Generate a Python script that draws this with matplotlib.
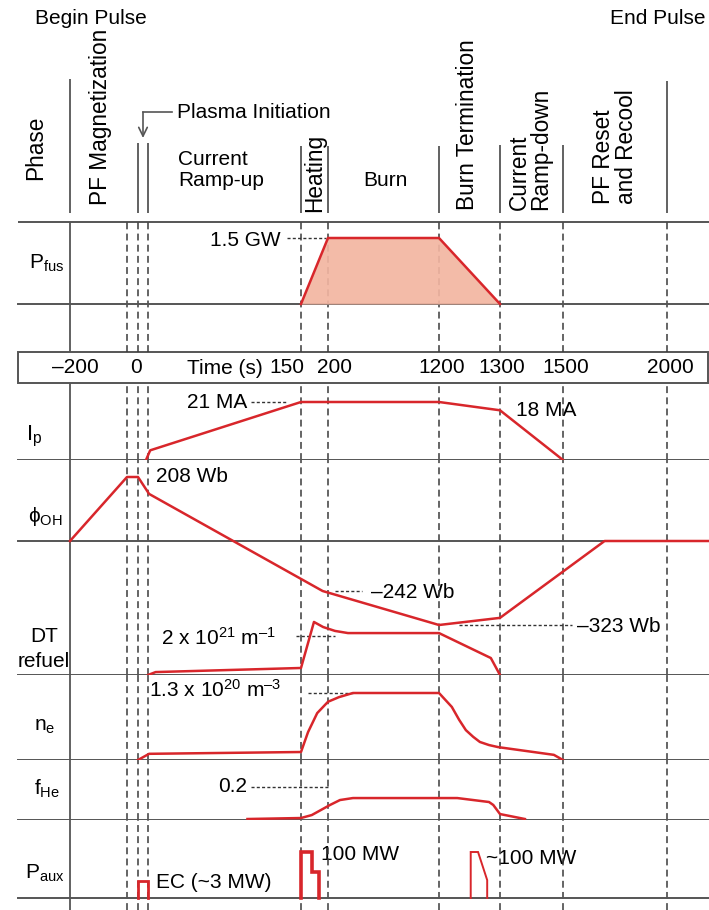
import numpy as np
import matplotlib
matplotlib.use('Agg')
import matplotlib.pyplot as plt
from matplotlib.patches import Rectangle

plt.rcParams['font.family'] = ['Liberation Sans', 'DejaVu Sans']
plt.rcParams['mathtext.fontset'] = 'custom'
plt.rcParams['mathtext.rm'] = 'Liberation Sans'
plt.rcParams['mathtext.it'] = 'Liberation Sans:italic'

# ---------------- data ----------------
TIME_TICKS = [-200, 0, 150, 200, 1200, 1300, 1500, 2000]
TIME_TICK_LABELS = ['\u2013200', '0', '150', '200', '1200', '1300', '1500', '2000']
PHASE_BOUNDS = [-200, -30, 0, 10, 150, 200, 1200, 1300, 1500, 2000]

pfus_t = [150, 200, 1200, 1300]
pfus_v = [0, 1.5, 1.5, 0]                      # GW

ip_t = [8, 12, 150, 1200, 1300, 1500]
ip_v = [0, 3.5, 21, 21, 18, 0]                 # MA

phi_t = [-200, -30, 0, 11, 190, 1200, 1300, 1700, 2200]
phi_v = [0, 208, 208, 153, -242, -323, -306, 0, 0]   # Wb

dt_t = [10, 17, 150, 174, 191, 263, 380, 1200, 1285, 1300]
dt_v = [0, 0.15, 0.36, 2.72, 2.46, 2.26, 2.15, 2.15, 0.87, 0]   # 1e21 m^-1

ne_t = [0, 11, 150, 163, 180, 200, 299, 425, 1200, 1221, 1233, 1244, 1256,
        1267, 1282, 1297, 1471, 1500]
ne_v = [0, 0.12, 0.155, 0.54, 0.91, 1.13, 1.22, 1.3, 1.3, 1.03, 0.78, 0.58, 0.45,
        0.35, 0.29, 0.25, 0.10, 0]             # 1e20 m^-3

fhe_t = [101, 150, 170, 218, 308, 425, 1230, 1282, 1289, 1300, 1379]
fhe_v = [0.006, 0.012, 0.03, 0.091, 0.121, 0.133, 0.133, 0.109, 0.091, 0.036, 0.006]

ec_t = [0, 0, 10, 10]
ec_v = [0, 3, 3, 0]                            # MW
heat_t = [150, 150, 170, 170, 183, 183]
heat_v = [0, 100, 100, 33, 33, 0]
term_t = [1252, 1252, 1264, 1279, 1279]
term_v = [0, 100, 100, 6, 0]

# ---------------- layout (pixels) ----------------
W, H = 709, 910
T_KNOTS = [-200, -30, 0, 10, 150, 200, 1200, 1300, 1500, 2000]
PX_KNOTS = [70, 127, 138, 148, 301, 328, 439, 500, 563, 667]

RED = '#d8262b'
FILL = '#f2b5a1'
GRID = '#3a3a3a'
FRAME = '#555555'
FS = 15
FSR = 16.3   # rotated header labels


def interp_ext(x, xp, fp):
    x = np.asarray(x, float)
    xp = np.asarray(xp, float)
    fp = np.asarray(fp, float)
    y = np.interp(x, xp, fp)
    lo_s = (fp[1] - fp[0]) / (xp[1] - xp[0])
    hi_s = (fp[-1] - fp[-2]) / (xp[-1] - xp[-2])
    y = np.where(x < xp[0], fp[0] + (x - xp[0]) * lo_s, y)
    y = np.where(x > xp[-1], fp[-1] + (x - xp[-1]) * hi_s, y)
    return y


def x_fwd(t):
    return interp_ext(t, T_KNOTS, PX_KNOTS)


def x_inv(p):
    return interp_ext(p, PX_KNOTS, T_KNOTS)


fig = plt.figure(figsize=(W / 100, H / 100), dpi=100)

# frame axes in pixel coordinates (texts / structure)
fr = fig.add_axes([0, 0, 1, 1])
fr.set_xlim(0, W)
fr.set_ylim(H, 0)
fr.axis('off')


def row_axes(top, bottom, vals, pxs):
    ax = fig.add_axes([0, 1 - bottom / H, 1, (bottom - top) / H])
    ax.set_xscale('function', functions=(x_fwd, x_inv))
    ax.set_xlim(float(x_inv(0)), float(x_inv(W)))
    neg = [-p for p in pxs]
    vals_s = list(vals)
    f = (lambda v, a=vals_s, b=neg: interp_ext(v, a, b))
    g = (lambda q, a=vals_s, b=neg: interp_ext(q, b, a))
    ax.set_yscale('function', functions=(f, g))
    ax.set_ylim(float(g(-bottom)), float(g(-top)))
    ax.axis('off')
    ax.patch.set_visible(False)
    return ax


def vgrid(ax):
    for t in PHASE_BOUNDS:
        if t == -200:
            ax.axvline(t, color=FRAME, lw=1.3, zorder=1)
        else:
            ax.axvline(t, color=GRID, lw=1.1, ls=(0, (4.5, 2.8)), zorder=1)


def baseline(ax):
    ax.axhline(0, xmin=18 / W, xmax=1, color=FRAME, lw=1.4, zorder=2)


def leader(ax, p1, p2, v):
    ax.plot([float(x_inv(p1)), float(x_inv(p2))], [v, v], color='#333333',
            lw=1.0, ls=(0, (2.2, 1.6)), zorder=3)


# ---- header ----
hd = fig.add_axes([0, 1 - 222 / H, 1, 222 / H])
hd.set_xscale('function', functions=(x_fwd, x_inv))
hd.set_xlim(float(x_inv(0)), float(x_inv(W)))
hd.set_ylim(222, 0)
hd.axis('off')
hd.patch.set_visible(False)
HEADER_TOP = {-200: 79, 0: 143, 10: 143, 150: 146, 200: 146, 1200: 146,
              1300: 145, 1500: 145, 2000: 81}
for t in PHASE_BOUNDS:
    if t in HEADER_TOP:
        hd.vlines(t, HEADER_TOP[t], 213, color=FRAME, lw=1.3)
fr.hlines(222, 18, W, color=FRAME, lw=1.4)

# ---- Pfus ----
ax_pf = row_axes(222, 352, [0, 1.5], [304, 238])
vgrid(ax_pf)
baseline(ax_pf)
ax_pf.fill_between(pfus_t, pfus_v, 0, color=FILL, lw=0, zorder=2.5, alpha=0.92)
ax_pf.plot(pfus_t, pfus_v, color=RED, lw=1.8, zorder=4, solid_joinstyle='miter')
leader(ax_pf, 287, 326, 1.5)

# ---- time box ----
fr.add_patch(Rectangle((18, 352), W - 19, 31, facecolor='white',
                       edgecolor=FRAME, lw=1.4, zorder=5))
ax_tb = fig.add_axes([0, 1 - 383 / H, 1, 31 / H])
ax_tb.set_xscale('function', functions=(x_fwd, x_inv))
ax_tb.set_xlim(float(x_inv(0)), float(x_inv(W)))
ax_tb.set_ylim(0, 1)
ax_tb.axis('off')
ax_tb.patch.set_visible(False)
ax_tb.set_zorder(6)
TICK_NUDGE = {-200: 5, 0: -2, 150: -14, 200: 6, 1200: 3, 1300: 2, 1500: 3, 2000: 3}
for t, lab in zip(TIME_TICKS, TIME_TICK_LABELS):
    ax_tb.annotate(lab, xy=(t, 0.5), xytext=(TICK_NUDGE[t] * 0.72, 0),
                   textcoords='offset points', ha='center', va='center', fontsize=FS)
fr.text(225, 368, 'Time (s)', ha='center', va='center', fontsize=FS, zorder=7)

# ---- Ip ----
ax_ip = row_axes(383, 460, [0, 21], [460, 402])
vgrid(ax_ip)
baseline(ax_ip)
ax_ip.plot(ip_t, ip_v, color=RED, lw=1.8, zorder=4)
leader(ax_ip, 251, 287, 21)

# ---- phi OH ----
ax_phi = row_axes(460, 675, [-323, -242, 0, 208], [625, 591, 541, 477])
vgrid(ax_phi)
baseline(ax_phi)
ax_phi.plot(phi_t, phi_v, color=RED, lw=1.8, zorder=4)
leader(ax_phi, 335, 362, -242)
leader(ax_phi, 459, 572, -323)

# ---- DT refuel ----
ax_dt = row_axes(541, 675, [0, 2], [675, 636])
baseline(ax_dt)
ax_dt.plot(dt_t, dt_v, color=RED, lw=1.8, zorder=4)
leader(ax_dt, 296, 335, 2)

# ---- ne ----
ax_ne = row_axes(675, 760, [0, 1.3], [760, 693])
vgrid(ax_ne)
baseline(ax_ne)
ax_ne.plot(ne_t, ne_v, color=RED, lw=1.8, zorder=4)
leader(ax_ne, 308, 353, 1.3)

# ---- fHe ----
ax_fhe = row_axes(760, 820, [0, 0.2], [820, 787])
vgrid(ax_fhe)
baseline(ax_fhe)
ax_fhe.plot(fhe_t, fhe_v, color=RED, lw=1.8, zorder=4)
leader(ax_fhe, 251, 330, 0.2)

# ---- Paux ----
ax_pa = row_axes(820, 910, [0, 3, 100], [898, 881, 852])
vgrid(ax_pa)
baseline(ax_pa)
ax_pa.plot(ec_t, ec_v, color=RED, lw=2.0, zorder=4, solid_joinstyle='miter')
ax_pa.plot(heat_t, heat_v, color=RED, lw=2.6, zorder=4, solid_joinstyle='miter')
ax_pa.plot(term_t, term_v, color=RED, lw=1.4, zorder=4, solid_joinstyle='miter')

# ---------------- texts ----------------
fr.text(35, 18, 'Begin Pulse', ha='left', va='center', fontsize=FS)
fr.text(705, 18, 'End Pulse', ha='right', va='center', fontsize=FS)
fr.text(36, 148, 'Phase', rotation=90, ha='center', va='center', fontsize=FSR)
fr.text(100, 205, 'PF Magnetization', rotation=90, ha='center', va='bottom', fontsize=FSR)
fr.text(177, 112, 'Plasma Initiation', ha='left', va='center', fontsize=FS)
fr.text(178, 170, 'Current\nRamp-up', ha='left', va='center', fontsize=FS, linespacing=1.15)
fr.text(315, 212, 'Heating', rotation=90, ha='center', va='bottom', fontsize=FSR)
fr.text(385, 180, 'Burn', ha='center', va='center', fontsize=FS)
fr.text(468, 210, 'Burn Termination', rotation=90, ha='center', va='bottom', fontsize=FSR)
fr.text(530, 210, 'Current\nRamp-down', rotation=90, ha='center', va='bottom',
        multialignment='left', fontsize=FSR, linespacing=0.95)
fr.text(615, 204, 'PF Reset\nand Recool', rotation=90, ha='center', va='bottom',
        multialignment='left', fontsize=FSR, linespacing=0.95)

fr.plot([143, 172], [112, 112], color=FRAME, lw=1.2)
fr.annotate('', xy=(143, 138), xytext=(143, 112),
            arrowprops=dict(arrowstyle='->,head_length=0.45,head_width=0.22',
                            color=FRAME, lw=1.2, shrinkA=0, shrinkB=0,
                            mutation_scale=14))

# row labels
fr.text(47, 263, r'P$_{\mathregular{fus}}$', ha='center', va='center', fontsize=FS)
fr.text(34, 436, r'I$_{\mathregular{p}}$', ha='center', va='center', fontsize=FS + 1)
fr.text(45, 517, '\u03d5$_{\\mathregular{OH}}$', ha='center', va='center', fontsize=FS)
fr.text(44, 649, 'DT\nrefuel', ha='center', va='center', fontsize=FS, linespacing=1.35)
fr.text(45, 727, r'n$_{\mathregular{e}}$', ha='center', va='center', fontsize=FS)
fr.text(47, 789, r'f$_{\mathregular{He}}$', ha='center', va='center', fontsize=FS)
fr.text(45, 873, r'P$_{\mathregular{aux}}$', ha='center', va='center', fontsize=FS)

# value annotations
fr.text(281, 240, '1.5 GW', ha='right', va='center', fontsize=FS, zorder=8)
fr.text(247, 403, '21 MA', ha='right', va='center', fontsize=FS, zorder=8)
fr.text(516, 410, '18 MA', ha='left', va='center', fontsize=FS, zorder=8)
fr.text(156, 477, '208 Wb', ha='left', va='center', fontsize=FS, zorder=8)
fr.text(371, 592, '\u2013242 Wb', ha='left', va='center', fontsize=FS, zorder=8)
fr.text(577, 626, '\u2013323 Wb', ha='left', va='center', fontsize=FS, zorder=8)
fr.text(161, 638, '2 x 10$^{\\mathregular{21}}$ m$^{\\mathregular{\u2013 1}}$',
        ha='left', va='center', fontsize=FS, zorder=8)
fr.text(149, 690, '1.3 x 10$^{\\mathregular{20}}$ m$^{\\mathregular{\u2013 3}}$',
        ha='left', va='center', fontsize=FS, zorder=8)
fr.text(247, 787, '0.2', ha='right', va='center', fontsize=FS, zorder=8)
fr.text(156, 882, 'EC (~3 MW)', ha='left', va='center', fontsize=FS, zorder=8)
fr.text(321, 855, '100 MW', ha='left', va='center', fontsize=FS, zorder=8)
fr.text(486, 858, '~100 MW', ha='left', va='center', fontsize=FS, zorder=8)

fig.savefig('out.png', dpi=100)
